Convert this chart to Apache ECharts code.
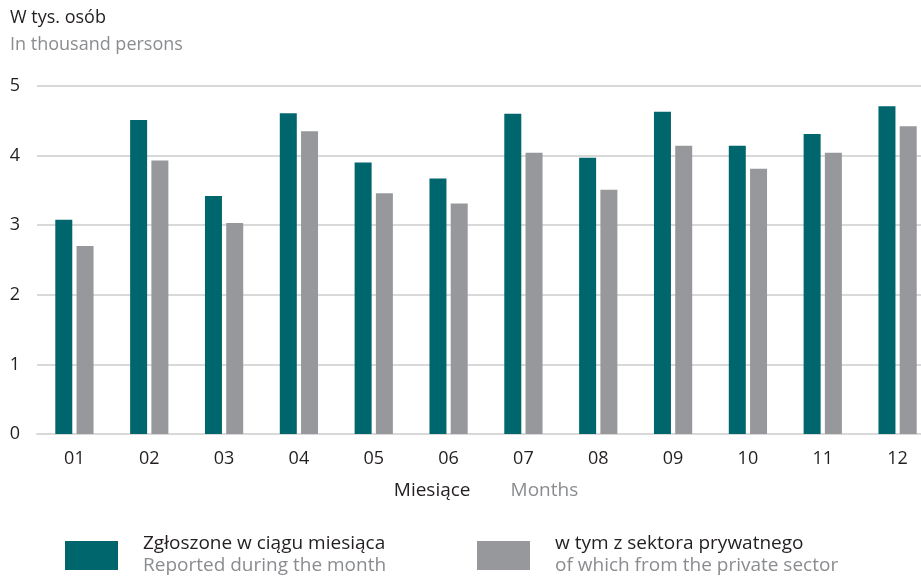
<!DOCTYPE html>
<html>
<head>
<meta charset="utf-8">
<script src="https://cdn.jsdelivr.net/npm/echarts@6/dist/echarts.min.js"></script>
<style>
  html, body { margin: 0; padding: 0; background: #fff; }
  #chart { width: 921px; height: 576px; }
</style>
</head>
<body>
<div id="chart"></div>
<script>
// months on the x axis
const months = ["01", "02", "03", "04", "05", "06", "07", "08", "09", "10", "11", "12"];
// thousand persons
const reported = [3.08, 4.51, 3.42, 4.61, 3.90, 3.67, 4.60, 3.97, 4.63, 4.14, 4.31, 4.71];
const privateSector = [2.70, 3.93, 3.03, 4.35, 3.46, 3.31, 4.04, 3.51, 4.14, 3.81, 4.04, 4.42];

const nameReported = "Zgłoszone w ciągu miesiąca";
const nameReportedEn = "Reported during the month";
const namePrivate = "w tym z sektora prywatnego";
const namePrivateEn = "of which from the private sector";

const font = "Open Sans";
const dark = "#231f20";
const grey = "#8a8c8f";

const legendBase = {
  orient: "vertical",
  top: 529,
  itemWidth: 53,
  itemHeight: 29,
  itemGap: 0,
  icon: "rect",
  selectedMode: false,
  textStyle: {
    rich: {
      a: { fontFamily: font, fontSize: 19, color: dark, lineHeight: 24, padding: [0, 0, 0, 20] },
      b: { fontFamily: font, fontSize: 19, color: grey, lineHeight: 24, padding: [0, 0, 4, 20] }
    }
  }
};

const chart = echarts.init(document.getElementById("chart"));
chart.setOption({
  animation: false,
  title: {
    text: "W tys. osób",
    subtext: "In thousand persons",
    left: 5,
    top: 4,
    itemGap: 9,
    textStyle: { fontFamily: font, fontSize: 18, fontWeight: "normal", color: dark },
    subtextStyle: { fontFamily: font, fontSize: 18, color: grey }
  },
  grid: { left: 37, width: 898, top: 86, bottom: 142, outerBoundsMode: "none" },
  legend: [
    Object.assign({}, legendBase, {
      left: 60,
      data: [nameReported],
      formatter: () => "{a|" + nameReported + "}\n{b|" + nameReportedEn + "}"
    }),
    Object.assign({}, legendBase, {
      left: 472,
      data: [namePrivate],
      formatter: () => "{a|" + namePrivate + "}\n{b|" + namePrivateEn + "}"
    })
  ],
  xAxis: {
    type: "category",
    data: months,
    axisTick: { show: false },
    axisLine: { lineStyle: { color: "#d9d9d9", width: 2 } },
    axisLabel: { fontFamily: font, fontSize: 18, color: dark, margin: 16 },
    name: "{a|Miesiące}{b|Months}",
    nameLocation: "middle",
    nameGap: 47,
    nameTextStyle: {
      rich: {
        a: { fontFamily: font, fontSize: 19, color: dark },
        b: { fontFamily: font, fontSize: 19, color: grey, padding: [0, 0, 0, 40] }
      }
    }
  },
  yAxis: {
    type: "value",
    min: 0,
    max: 5,
    interval: 1,
    axisLine: { show: false },
    axisTick: { show: false },
    axisLabel: { fontFamily: font, fontSize: 18, color: dark, margin: 17 },
    splitLine: { lineStyle: { color: "#d9d9d9", width: 2 } }
  },
  series: [
    {
      name: nameReported,
      type: "bar",
      data: reported,
      barWidth: 17,
      barGap: "25%",
      itemStyle: { color: "#00666e" }
    },
    {
      name: namePrivate,
      type: "bar",
      data: privateSector,
      barWidth: 17,
      itemStyle: { color: "#97989c" }
    }
  ]
});
</script>
</body>
</html>
